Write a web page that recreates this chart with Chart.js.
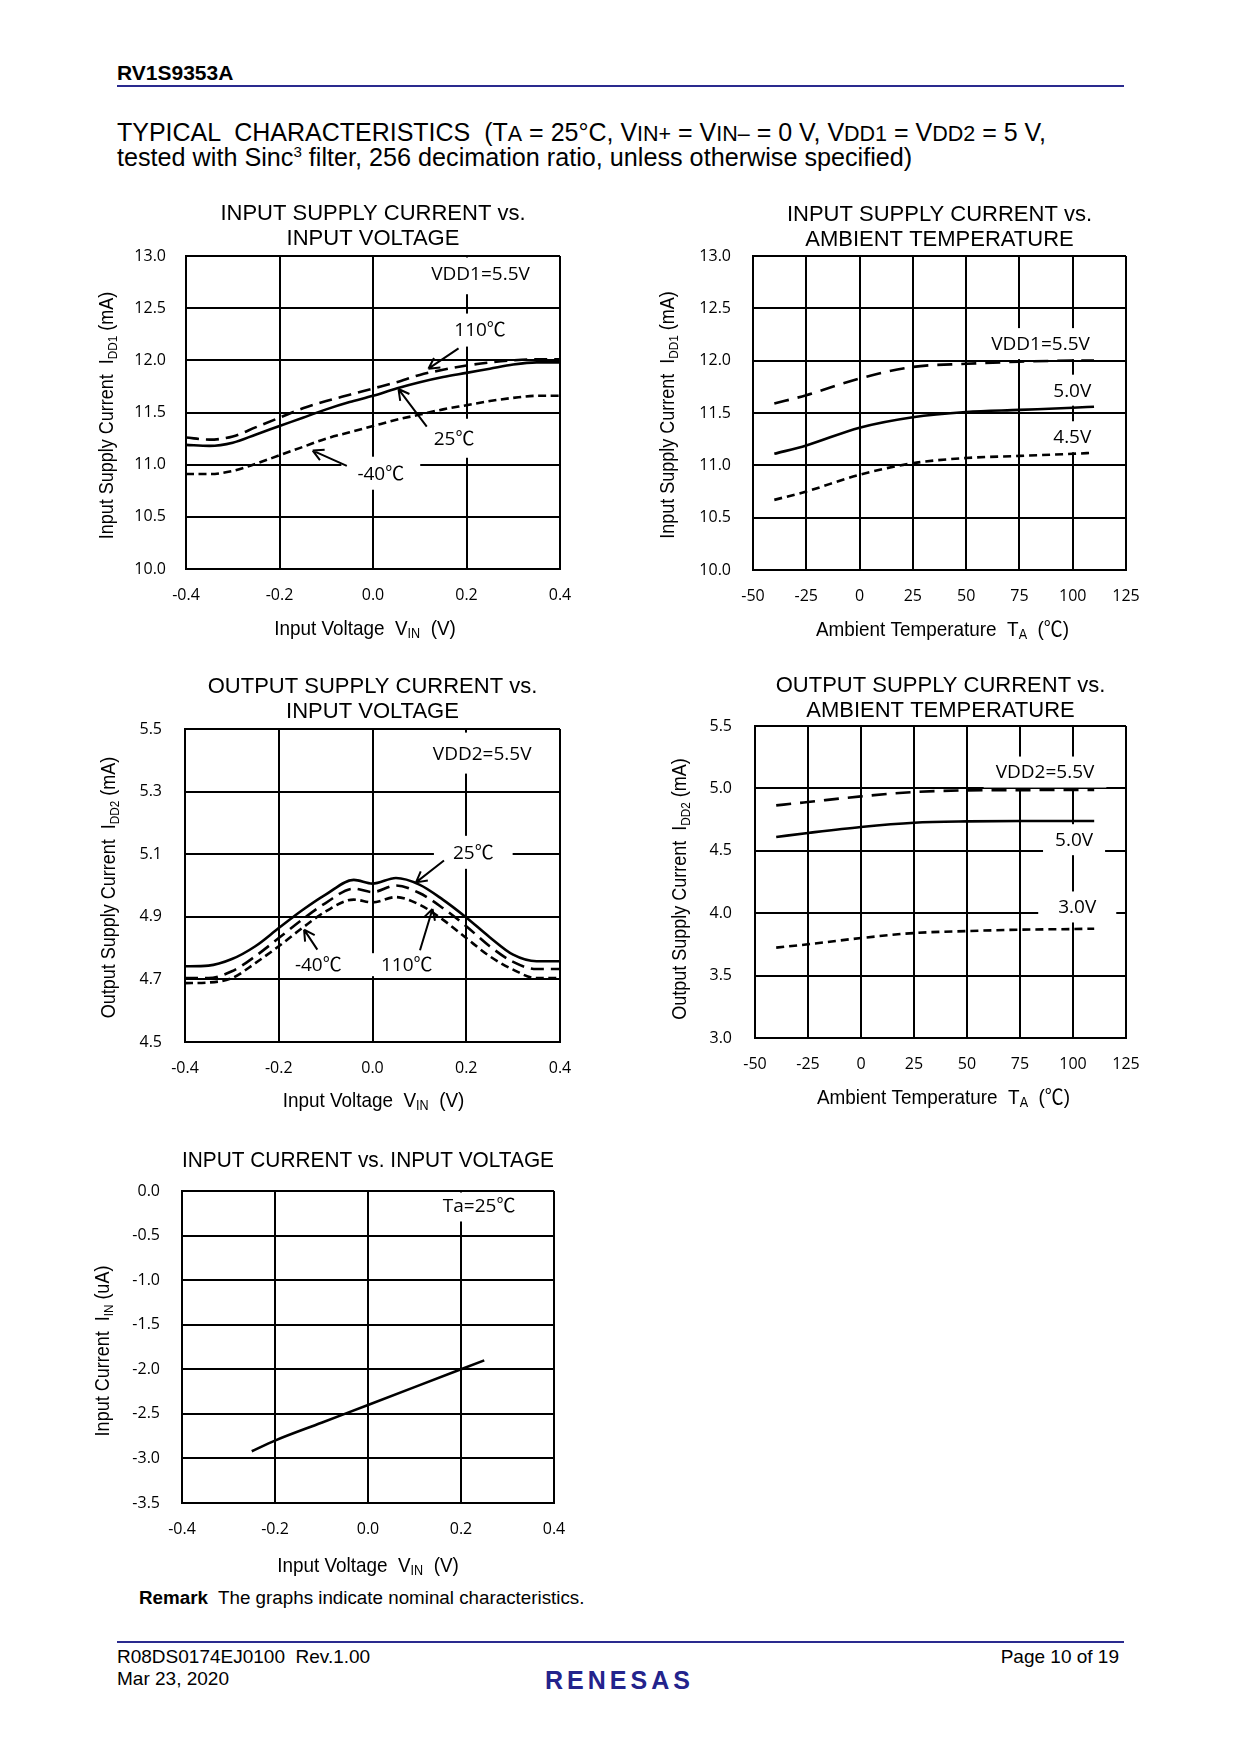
<!DOCTYPE html>
<html>
<head>
<meta charset="utf-8">
<script src="https://cdn.jsdelivr.net/npm/chart.js"></script>
<style>
  body { margin: 0; background: #fff; }
  #page { position: relative; width: 1240px; height: 1754px; background: #fff; font-family: 'Liberation Sans', Arial, sans-serif; color: #000; }
  .t { position: absolute; white-space: pre; }
  .sc { font-size: 86%; }
  .rule { position: absolute; left: 117px; width: 1007px; height: 2px; background: #2a2a8e; }
  canvas { position: absolute; }
</style>
</head>
<body>
<div id="page">
  <div class="t" style="left:117px; top:61px; font-size:21px; font-weight:bold;">RV1S9353A</div>
  <div class="rule" style="top:85px;"></div>
  <div class="t" style="left:117px; top:120px; font-size:25px; line-height:25px;">TYPICAL  CHARACTERISTICS  (T<span class="sc">A</span> = 25°C, V<span class="sc">IN+</span> = V<span class="sc">IN–</span> = 0 V, V<span class="sc">DD1</span> = V<span class="sc">DD2</span> = 5 V,</div>
  <div class="t" style="left:117px; top:145px; font-size:25.2px; line-height:25px;">tested with Sinc<sup style="font-size:60%; line-height:0;">3</sup> filter, 256 decimation ratio, unless otherwise specified)</div>

  <canvas id="c1" width="520" height="460" style="left:80px; top:190px;"></canvas>
  <canvas id="c2" width="520" height="460" style="left:640px; top:190px;"></canvas>
  <canvas id="c3" width="520" height="460" style="left:80px; top:660px;"></canvas>
  <canvas id="c4" width="520" height="460" style="left:640px; top:660px;"></canvas>
  <canvas id="c5" width="520" height="450" style="left:80px; top:1130px;"></canvas>

  <div class="t" style="left:139px; top:1587px; font-size:18.8px;"><b>Remark</b>  The graphs indicate nominal characteristics.</div>

  <div class="rule" style="top:1641px;"></div>
  <div class="t" style="left:117px; top:1646px; font-size:19px;">R08DS0174EJ0100  Rev.1.00</div>
  <div class="t" style="left:117px; top:1668px; font-size:19px;">Mar 23, 2020</div>
  <div class="t" style="right:121px; top:1646px; font-size:19px;">Page 10 of 19</div>
  <div class="t" style="left:545px; top:1666px; font-size:25px; font-weight:bold; letter-spacing:4px; color:#23238c;">RENESAS</div>
</div>
<script>
// ---- data ----
const vinA = [-0.4, -0.35, -0.3, -0.25, -0.2, -0.15, -0.1, -0.05, 0, 0.05, 0.1, 0.15, 0.2, 0.25, 0.3, 0.35, 0.4];
const idd1_110C = [11.26, 11.24, 11.27, 11.36, 11.45, 11.54, 11.61, 11.67, 11.73, 11.79, 11.86, 11.91, 11.95, 11.98, 12.0, 12.01, 12.01];
const idd1_25C = [11.19, 11.18, 11.21, 11.29, 11.37, 11.45, 11.53, 11.60, 11.66, 11.73, 11.79, 11.84, 11.88, 11.92, 11.96, 11.98, 11.98];
const idd1_m40C = [10.91, 10.91, 10.94, 11.01, 11.09, 11.17, 11.25, 11.31, 11.37, 11.43, 11.48, 11.53, 11.57, 11.61, 11.64, 11.66, 11.66];

const taA = [-40, -25, 0, 25, 50, 75, 100, 110];
const idd1_55V = [11.59, 11.67, 11.83, 11.94, 11.97, 11.99, 12.0, 12.0];
const idd1_50V = [11.11, 11.19, 11.36, 11.46, 11.51, 11.53, 11.55, 11.56];
const idd1_45V = [10.67, 10.75, 10.91, 11.02, 11.07, 11.09, 11.11, 11.12];

const vinB = [-0.4, -0.35, -0.3, -0.25, -0.2, -0.15, -0.1, -0.04, 0, 0.05, 0.1, 0.15, 0.2, 0.25, 0.3, 0.35, 0.4];
const idd2_25C = [4.742, 4.744, 4.765, 4.806, 4.864, 4.921, 4.971, 5.018, 5.006, 5.024, 5.003, 4.955, 4.898, 4.835, 4.779, 4.758, 4.758];
const idd2_110C = [4.704, 4.704, 4.726, 4.774, 4.832, 4.891, 4.944, 4.990, 4.979, 5.0, 4.976, 4.928, 4.870, 4.806, 4.756, 4.733, 4.733];
const idd2_m40C = [4.688, 4.690, 4.704, 4.752, 4.806, 4.864, 4.917, 4.955, 4.946, 4.963, 4.939, 4.891, 4.832, 4.774, 4.731, 4.704, 4.704];

const taB = [-40, -25, 0, 25, 50, 75, 100, 110];
const idd2_55V = [4.864, 4.891, 4.936, 4.971, 4.984, 4.986, 4.988, 4.988];
const idd2_50V = [4.611, 4.643, 4.691, 4.725, 4.736, 4.739, 4.739, 4.739];
const idd2_30V = [3.724, 3.751, 3.801, 3.841, 3.857, 3.868, 3.873, 3.876];

const vinC = [-0.25, -0.2, -0.1, 0, 0.1, 0.2, 0.25];
const iin25C = [-2.92, -2.80, -2.60, -2.40, -2.20, -2.00, -1.90];

const LONG = [13, 7], SHORT = [8, 4.5], SOLID = [];
const NOTE_FONT = "19px 'Open Sans', 'Noto Sans CJK JP', sans-serif";
const AXIS_FONT = "'Liberation Sans', Arial, 'Noto Sans CJK JP', sans-serif";

function drawRich(ctx, parts, cx, cy, rot, size) {
  ctx.save();
  ctx.translate(cx, cy);
  ctx.rotate(rot);
  ctx.scale(0.9, 1);
  ctx.fillStyle = '#000';
  ctx.textAlign = 'left';
  ctx.textBaseline = 'alphabetic';
  const fontFor = sub => (sub ? Math.round(size * 0.65) : size) + 'px ' + AXIS_FONT;
  let total = 0;
  const ws = parts.map(([t, sub]) => { ctx.font = fontFor(sub); const w = ctx.measureText(t).width; total += w; return w; });
  let px = -total / 2;
  parts.forEach(([t, sub], i) => {
    ctx.font = fontFor(sub);
    ctx.fillText(t, px, size * 0.36 + (sub ? size * 0.17 : 0));
    px += ws[i];
  });
  ctx.restore();
}

const axisText = {
  id: 'axisText',
  afterDraw(chart, args, o) {
    const a = chart.chartArea;
    drawRich(chart.ctx, o.x, (a.left + a.right) / 2 + (o.xdx || 0), a.bottom + o.xOff, 0, 21);
    drawRich(chart.ctx, o.y, a.left - o.yOff, (a.top + a.bottom) / 2 + (o.ydy || 0), -Math.PI / 2, 20);
  }
};

const notes = {
  id: 'notes',
  beforeDatasetsDraw(chart, args, o) {
    const {ctx, chartArea: a, scales: {x, y}} = chart;
    ctx.save();
    ctx.font = NOTE_FONT;
    ctx.textAlign = 'center';
    ctx.textBaseline = 'middle';
    (o.labels || []).forEach(n => {
      const px = x.getPixelForValue(n.at[0]), py = y.getPixelForValue(n.at[1]);
      const w = ctx.measureText(n.text).width + 2 * (n.padX ?? 12);
      const h = 23 + 2 * (n.padY ?? 5);
      ctx.save();
      ctx.beginPath();
      ctx.rect(a.left + 1.5, a.top + 1.5, a.right - a.left - 3, a.bottom - a.top - 3);
      ctx.clip();
      ctx.fillStyle = '#fff';
      ctx.fillRect(px - w / 2, py - h / 2, w, h);
      ctx.restore();
      ctx.fillStyle = '#000';
      ctx.fillText(n.text, px, py + 1);
    });
    ctx.restore();
  },
  afterDatasetsDraw(chart, args, o) {
    const {ctx, scales: {x, y}} = chart;
    ctx.save();
    ctx.strokeStyle = '#000';
    ctx.lineWidth = 2;
    (o.arrows || []).forEach(ar => {
      const x1 = x.getPixelForValue(ar.from[0]), y1 = y.getPixelForValue(ar.from[1]);
      const x2 = x.getPixelForValue(ar.to[0]), y2 = y.getPixelForValue(ar.to[1]);
      const ang = Math.atan2(y2 - y1, x2 - x1);
      ctx.beginPath();
      ctx.moveTo(x1, y1);
      ctx.lineTo(x2, y2);
      for (const s of [-1, 1]) {
        ctx.moveTo(x2, y2);
        ctx.lineTo(x2 - 12 * Math.cos(ang + s * 0.5), y2 - 12 * Math.sin(ang + s * 0.5));
      }
      ctx.stroke();
    });
    ctx.restore();
  }
};

function buildChart(id, spec) {
  const c = document.getElementById(id);
  const [pl, pt, pr, pb] = spec.plot;
  const padTop = spec.titleY - 12.5;
  const tickFont = {family: "'Open Sans', sans-serif", size: 16};
  return new Chart(c, {
    type: 'line',
    data: {
      datasets: spec.series.map(s => ({
        data: s.x.map((v, i) => ({x: v, y: s.y[i]})),
        borderColor: '#000',
        borderWidth: 2.6,
        borderDash: s.dash,
        pointRadius: 0,
        fill: false,
        cubicInterpolationMode: 'monotone'
      }))
    },
    options: {
      responsive: false,
      animation: false,
      devicePixelRatio: 1,
      layout: {padding: {left: 0, top: 0, bottom: 0, right: c.width - pr}},
      plugins: {
        legend: {display: false},
        tooltip: {enabled: false},
        title: {
          display: true, text: spec.title, fullSize: false, color: '#000',
          font: {family: "'Liberation Sans', Arial, sans-serif", size: 22, weight: 'normal', lineHeight: 25 / 22},
          padding: {top: padTop, bottom: pt - padTop - 25 * spec.title.length}
        },
        notes: {labels: spec.labels, arrows: spec.arrows},
        axisText: spec.axis
      },
      scales: {
        x: {
          type: 'linear', min: spec.xr[0], max: spec.xr[1],
          ticks: {stepSize: spec.xr[2], padding: 17, font: tickFont, color: '#000', autoSkip: false, maxRotation: 0,
                  callback: v => v.toFixed(spec.xr[3])},
          grid: {color: '#000', lineWidth: 2, drawTicks: false},
          border: {color: '#000', width: 2},
          afterFit: s => { s.height = c.height - pb; }
        },
        y: {
          type: 'linear', min: spec.yr[0], max: spec.yr[1],
          ticks: {stepSize: spec.yr[2], padding: spec.yPad, font: tickFont, color: '#000', autoSkip: false,
                  callback: v => v.toFixed(1)},
          grid: {color: '#000', lineWidth: 2, drawTicks: false},
          border: {color: '#000', width: 2},
          afterFit: s => { s.width = pl; }
        }
      }
    },
    plugins: [notes, axisText]
  });
}

const xVin = [['Input Voltage  V', 0], ['IN', 1], ['  (V)', 0]];
const xTa = [['Ambient Temperature  T', 0], ['A', 1], ['  (℃)', 0]];

buildChart('c1', {
  title: ['INPUT SUPPLY CURRENT vs.', 'INPUT VOLTAGE'], titleY: 24,
  plot: [106, 66, 480, 379], yPad: 20,
  xr: [-0.4, 0.4, 0.2, 1], yr: [10, 13, 0.5],
  series: [
    {x: vinA, y: idd1_110C, dash: LONG},
    {x: vinA, y: idd1_25C, dash: SOLID},
    {x: vinA, y: idd1_m40C, dash: SHORT}
  ],
  labels: [
    {text: 'VDD1=5.5V', at: [0.23, 12.83], padY: 9},
    {text: '110℃', at: [0.229, 12.29]},
    {text: '25℃', at: [0.1735, 11.253], padY: 8},
    {text: '-40℃', at: [0.0167, 10.918], padX: 16}
  ],
  arrows: [
    {from: [0.183, 12.114], to: [0.1186, 11.92]},
    {from: [0.115, 11.365], to: [0.0545, 11.725]},
    {from: [-0.056, 10.988], to: [-0.129, 11.135]}
  ],
  axis: {x: xVin, y: [['Input Supply Current  I', 0], ['DD1', 1], [' (mA)', 0]], xOff: 58, yOff: 80, xdx: -8, ydy: 3}
});

buildChart('c2', {
  title: ['INPUT SUPPLY CURRENT vs.', 'AMBIENT TEMPERATURE'], titleY: 24.5,
  plot: [113, 66, 486, 380], yPad: 22,
  xr: [-50, 125, 25, 0], yr: [10, 13, 0.5],
  series: [
    {x: taA, y: idd1_55V, dash: [15, 9]},
    {x: taA, y: idd1_50V, dash: SOLID},
    {x: taA, y: idd1_45V, dash: [8, 5]}
  ],
  labels: [
    {text: 'VDD1=5.5V', at: [84.9, 12.163], padY: 4},
    {text: '5.0V', at: [99.8, 11.718], padY: 4},
    {text: '4.5V', at: [99.8, 11.273], padY: 4}
  ],
  arrows: [],
  axis: {x: xTa, y: [['Input Supply Current  I', 0], ['DD1', 1], [' (mA)', 0]], xOff: 58, yOff: 86, xdx: 3, ydy: 2}
});

buildChart('c3', {
  title: ['OUTPUT SUPPLY CURRENT vs.', 'INPUT VOLTAGE'], titleY: 27,
  plot: [105, 69, 480, 382], yPad: 23,
  xr: [-0.4, 0.4, 0.2, 1], yr: [4.5, 5.5, 0.2],
  series: [
    {x: vinB, y: idd2_25C, dash: SOLID},
    {x: vinB, y: idd2_110C, dash: LONG},
    {x: vinB, y: idd2_m40C, dash: SHORT}
  ],
  labels: [
    {text: 'VDD2=5.5V', at: [0.234, 5.423], padY: 9},
    {text: '25℃', at: [0.215, 5.106], padX: 19},
    {text: '-40℃', at: [-0.1156, 4.747], padY: 0},
    {text: '110℃', at: [0.073, 4.747], padX: 16, padY: 0}
  ],
  arrows: [
    {from: [0.1525, 5.08], to: [0.0928, 5.01]},
    {from: [-0.1177, 4.795], to: [-0.146, 4.859]},
    {from: [0.1013, 4.793], to: [0.128, 4.925]}
  ],
  axis: {x: xVin, y: [['Output Supply Current  I', 0], ['DD2', 1], [' (mA)', 0]], xOff: 57, yOff: 77, xdx: 1, ydy: 2}
});

buildChart('c4', {
  title: ['OUTPUT SUPPLY CURRENT vs.', 'AMBIENT TEMPERATURE'], titleY: 26,
  plot: [115, 66, 486, 378], yPad: 23,
  xr: [-50, 125, 25, 0], yr: [3, 5.5, 0.5],
  series: [
    {x: taB, y: idd2_55V, dash: [15, 9]},
    {x: taB, y: idd2_50V, dash: SOLID},
    {x: taB, y: idd2_30V, dash: [8, 5]}
  ],
  labels: [
    {text: 'VDD2=5.5V', at: [86.8, 5.131], padY: 4},
    {text: '5.0V', at: [100.5, 4.589], padY: 4},
    {text: '3.0V', at: [102, 4.05], padX: 20, padY: 4}
  ],
  arrows: [],
  axis: {x: xTa, y: [['Output Supply Current  I', 0], ['DD2', 1], [' (mA)', 0]], xOff: 58, yOff: 76, xdx: 3, ydy: 7}
});

buildChart('c5', {
  title: ['INPUT CURRENT vs. INPUT VOLTAGE'], titleY: 31,
  plot: [102, 61, 474, 373], yPad: 22,
  xr: [-0.4, 0.4, 0.2, 1], yr: [-3.5, 0, 0.5],
  series: [
    {x: vinC, y: iin25C, dash: SOLID}
  ],
  labels: [
    {text: 'Ta=25℃', at: [0.239, -0.168], padY: 4}
  ],
  arrows: [],
  axis: {x: xVin, y: [['Input Current  I', 0], ['IN', 1], [' (uA)', 0]], xOff: 61, yOff: 80, xdx: 0, ydy: 4}
});
</script>
</body>
</html>
